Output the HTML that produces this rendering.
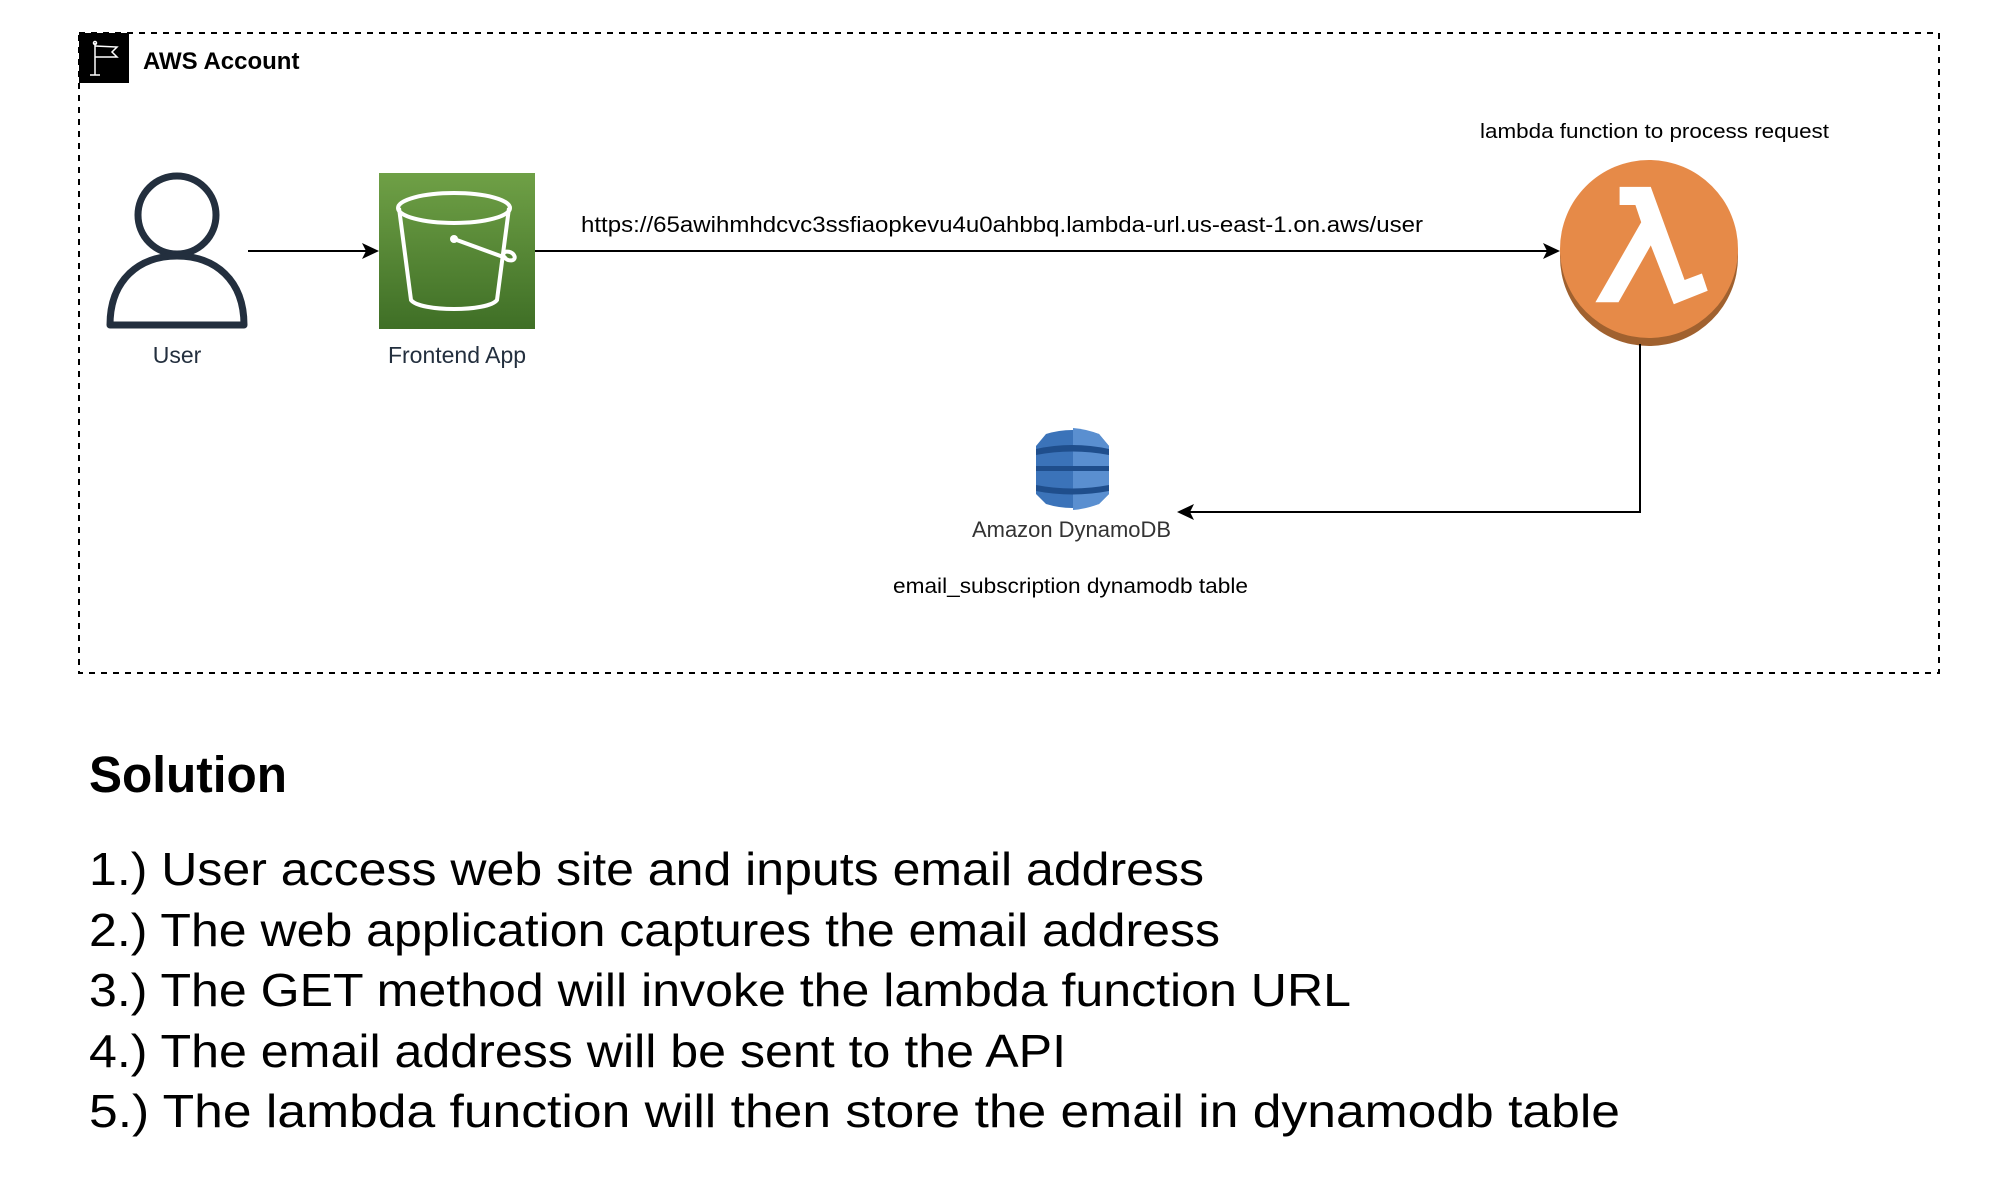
<!DOCTYPE html>
<html><head><meta charset="utf-8"><style>html,body{margin:0;padding:0;background:#fff}svg{display:block}</style></head>
<body>
<svg width="2000" height="1178" viewBox="0 0 2000 1178" xmlns="http://www.w3.org/2000/svg" font-family="Liberation Sans, sans-serif">
<defs>
<linearGradient id="g" x1="0" y1="0" x2="0" y2="1"><stop offset="0" stop-color="#6FA046"/><stop offset="1" stop-color="#3F6F26"/></linearGradient>
</defs>
<rect x="79" y="33" width="1860" height="640" fill="none" stroke="#000" stroke-width="2" stroke-dasharray="6,6"/>
<rect x="79" y="33" width="50" height="50" fill="#000"/>
<g stroke="#fff" stroke-width="1.5" fill="none"><line x1="95" y1="43" x2="95" y2="75"/><line x1="90" y1="75" x2="100" y2="75"/><polyline points="95,46 117,47 112,52 117,57 95,57"/><circle cx="95" cy="43" r="1.5"/></g>
<text x="143" y="69" font-size="24" font-weight="bold">AWS Account</text>
<g stroke="#232F3E" stroke-width="7" fill="none"><circle cx="177" cy="215" r="39"/><path d="M110,325 L244,325 C244,280 215,256 177,256 C139,256 110,280 110,325 Z" stroke-linejoin="round"/></g>
<text x="177" y="363" font-size="23" fill="#232F3E" text-anchor="middle">User</text>
<line x1="248" y1="251" x2="370" y2="251" stroke="#000" stroke-width="2"/><path d="M379,251 L362,243 L366,251 L362,259 Z" fill="#000"/>
<rect x="379" y="173" width="156" height="156" fill="url(#g)"/>
<g stroke="#fff" stroke-width="4" fill="none"><ellipse cx="454" cy="208" rx="56" ry="15"/><path d="M399,208 L411,300 C420,312 488,312 497,300 L509,208"/><line x1="454" y1="239" x2="506" y2="258"/><ellipse cx="509" cy="256" rx="6" ry="4" transform="rotate(25 509 256)"/></g>
<circle cx="454" cy="239" r="4" fill="#fff"/>
<text x="457" y="363" font-size="23" fill="#232F3E" text-anchor="middle">Frontend App</text>
<line x1="535" y1="251" x2="1551" y2="251" stroke="#000" stroke-width="2"/><path d="M1560,251 L1543,243 L1547,251 L1543,259 Z" fill="#000"/>
<text x="581" y="232" font-size="22" textLength="842" lengthAdjust="spacingAndGlyphs">https://65awihmhdcvc3ssfiaopkevu4u0ahbbq.lambda-url.us-east-1.on.aws/user</text>
<text x="1480" y="138" font-size="20" textLength="349" lengthAdjust="spacingAndGlyphs">lambda function to process request</text>
<circle cx="1649" cy="257" r="89" fill="#A0612F"/>
<circle cx="1649" cy="249" r="89" fill="#E68A48"/>
<path d="M1619.6,186.9 L1650.8,186.9 L1684.6,280 L1701.9,273.5 L1707.7,290.8 L1673.8,304.2 L1650.8,245.4 L1618.5,302.3 L1595.4,302.3 L1641.2,222.3 L1635.4,205 L1619.6,205 Z" fill="#fff"/>
<polyline points="1640,344 1640,512 1186,512" fill="none" stroke="#000" stroke-width="2"/><path d="M1177,512 L1194,504 L1190,512 L1194,520 Z" fill="#000"/>
<g>
<path d="M1046,434 Q1072,426 1099,434 L1109,446 L1109,494 L1099,504 Q1072,512 1046,504 L1036,494 L1036,446 Z" fill="#3B73B9"/>
<path d="M1073,428 Q1086,429 1099,434 L1109,446 L1109,494 L1099,504 Q1086,509 1073,510 Z" fill="#5A8FD0"/>
<path d="M1036,449 Q1072,441 1109,449 L1109,455 Q1072,448 1036,455 Z" fill="#1F4E8C"/>
<path d="M1036,466 L1109,466 L1109,471 L1036,471 Z" fill="#1F4E8C"/>
<path d="M1036,485 Q1072,492 1109,485 L1109,491 Q1072,498 1036,491 Z" fill="#1F4E8C"/>
</g>
<text x="972" y="537" font-size="22" fill="#333" textLength="199" lengthAdjust="spacingAndGlyphs">Amazon DynamoDB</text>
<text x="893" y="593" font-size="21" textLength="355" lengthAdjust="spacingAndGlyphs">email_subscription dynamodb table</text>
<text x="89" y="792" font-size="51" font-weight="bold" textLength="198" lengthAdjust="spacingAndGlyphs">Solution</text>
<g font-size="46">
<text x="89" y="885" textLength="1115" lengthAdjust="spacingAndGlyphs">1.) User access web site and inputs email address</text>
<text x="89" y="946" textLength="1131" lengthAdjust="spacingAndGlyphs">2.) The web application captures the email address</text>
<text x="89" y="1006" textLength="1262" lengthAdjust="spacingAndGlyphs">3.) The GET method will invoke the lambda function URL</text>
<text x="89" y="1067" textLength="977" lengthAdjust="spacingAndGlyphs">4.) The email address will be sent to the API</text>
<text x="89" y="1127" textLength="1531" lengthAdjust="spacingAndGlyphs">5.) The lambda function will then store the email in dynamodb table</text>
</g>
</svg>
</body></html>
